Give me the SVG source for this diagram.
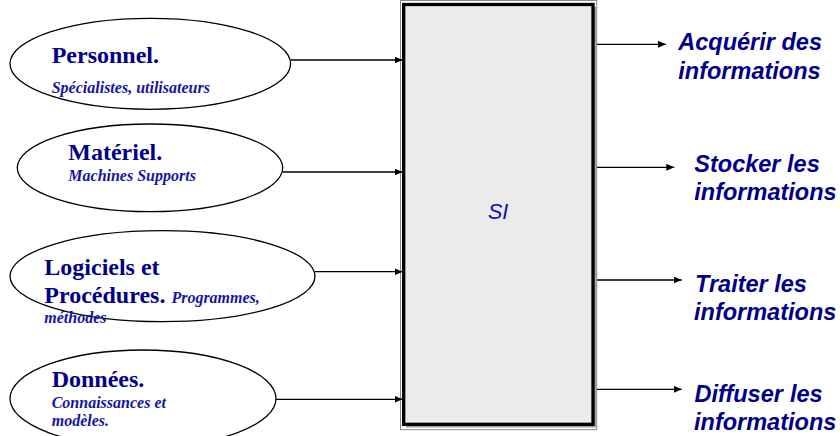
<svg xmlns="http://www.w3.org/2000/svg" width="840" height="436" viewBox="0 0 840 436">
<defs>
<marker id="ah" markerUnits="userSpaceOnUse" markerWidth="9" markerHeight="8" refX="8" refY="3.5" orient="auto">
<path d="M0,0 L8,3.5 L0,7 z" fill="#000"/>
</marker>
<style>
.ell{fill:#fff;stroke:#000;stroke-width:1.3}
.t{font-family:"Liberation Serif","Times New Roman",serif;font-weight:bold;font-size:24px;fill:#00008b}
.s{font-family:"Liberation Serif","Times New Roman",serif;font-weight:bold;font-style:italic;font-size:16px;fill:#1515a0}
.r{font-family:"Liberation Sans",Arial,sans-serif;font-weight:bold;font-style:italic;font-size:23.5px;fill:#00008b}
.c{stroke:#000;stroke-width:1.3;fill:none;marker-end:url(#ah)}
</style>
</defs>
<rect width="840" height="436" fill="#fff"/>
<g id="si">
<rect x="400.5" y="0.5" width="196.2" height="429.2" fill="#fff" stroke="#888" stroke-width="1"/>
<rect x="406" y="7" width="190.5" height="420.5" fill="#a0a0a0"/>
<rect x="403.7" y="4.5" width="189.3" height="419.8" fill="#ebebeb" stroke="#000" stroke-width="3.3"/>
<text x="488" y="219" font-family="'Liberation Sans',Arial,sans-serif" font-style="italic" font-size="21.5" fill="#1010a8">SI</text>
</g>
<g id="personnel">
<ellipse class="ell" cx="150.3" cy="63.8" rx="140.3" ry="45.5"/>
<text class="t" x="51.7" y="62.7">Personnel.</text>
<text class="s" x="51.7" y="93.3">Spécialistes, utilisateurs</text>
</g>
<g id="materiel">
<ellipse class="ell" cx="150" cy="167.8" rx="132.7" ry="43.8"/>
<text class="t" x="68.3" y="160">Matériel.</text>
<text class="s" x="68.3" y="180.7">Machines Supports</text>
</g>
<g id="logiciels">
<ellipse class="ell" cx="162.5" cy="276.2" rx="152.5" ry="45.5"/>
<text class="t" x="44.3" y="275">Logiciels et</text>
<text class="t" x="44.3" y="302.7">Procédures. <tspan class="s">Programmes,</tspan></text>
<text class="s" x="44.3" y="323.3">méthodes</text>
</g>
<g id="donnees">
<ellipse class="ell" cx="143" cy="398.5" rx="133" ry="48.5"/>
<text class="t" x="51.7" y="386.7">Données.</text>
<text class="s" x="51.7" y="407.7">Connaissances et</text>
<text class="s" x="51.7" y="426">modèles.</text>
</g>
<g id="acquerir">
<text class="r" x="678.3" y="50">Acquérir des</text>
<text class="r" x="678.3" y="79.3">informations</text>
</g>
<g id="stocker">
<text class="r" x="694.3" y="171.7">Stocker les</text>
<text class="r" x="694.3" y="200">informations</text>
</g>
<g id="traiter">
<text class="r" x="695" y="291.7">Traiter les</text>
<text class="r" x="694" y="320">informations</text>
</g>
<g id="diffuser">
<text class="r" x="694.5" y="401.7">Diffuser <tspan x="790">les</tspan></text>
<text class="r" x="694" y="430">informations</text>
</g>
<g id="connectors">
<line class="c" x1="290.6" y1="60" x2="402.5" y2="60"/>
<line class="c" x1="282.7" y1="172" x2="402.5" y2="172"/>
<line class="c" x1="315" y1="271.7" x2="402.5" y2="271.7"/>
<line class="c" x1="276" y1="399.3" x2="402.5" y2="399.3"/>
<line class="c" x1="597" y1="44.3" x2="666" y2="44.3"/>
<line class="c" x1="597" y1="167.3" x2="674.3" y2="167.3"/>
<line class="c" x1="597" y1="280" x2="681.7" y2="280"/>
<line class="c" x1="597" y1="389.3" x2="681.7" y2="389.3"/>
</g>
</svg>
